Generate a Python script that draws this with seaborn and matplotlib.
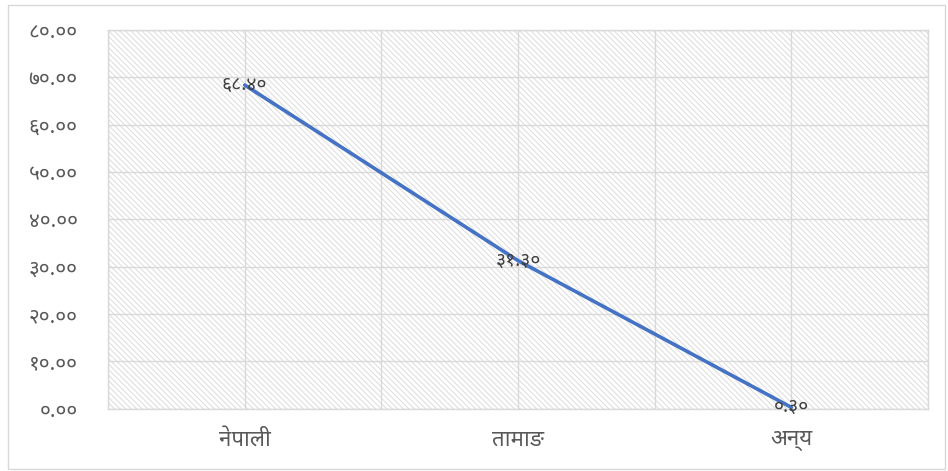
import matplotlib
matplotlib.use('Agg')
import matplotlib.pyplot as plt
import pandas as pd
import seaborn as sns
from matplotlib import font_manager
from matplotlib.patches import Rectangle
from matplotlib.ticker import FixedLocator

# data
categories = ['नेपाली', 'तामाङ', 'अन्य']
values = [68.40, 31.30, 0.30]
y_ticks = [0, 10, 20, 30, 40, 50, 60, 70, 80]

# western -> devanagari digits
DIGITS = str.maketrans('0123456789', '०१२३४५६७८९')


def deva_num(v):
    return ('%.2f' % v).translate(DIGITS)


sns.set_style('white')

# pick a font that has devanagari glyphs
candidates = ['Noto Sans Devanagari', 'Mukta', 'Hind', 'Lohit Devanagari',
              'Kalimati', 'Annapurna SIL', 'Akshar']
available = {f.name for f in font_manager.fontManager.ttflist}
deva = next((c for c in candidates if c in available), 'DejaVu Sans')
plt.rcParams['font.family'] = [deva, 'DejaVu Sans']
plt.rcParams['hatch.color'] = '#dcdcdc'
plt.rcParams['hatch.linewidth'] = 0.7

df = pd.DataFrame({'lang': categories, 'value': values})

fig = plt.figure(figsize=(9.48, 4.71), dpi=100)
ax = fig.add_axes([0.114, 0.132, 0.865, 0.804])

# hatched plot background
ax.add_patch(Rectangle((0, 0), 1, 1, transform=ax.transAxes, facecolor='white',
                       edgecolor='#dcdcdc', hatch='\\' * 6, linewidth=0, zorder=0))

sns.lineplot(data=df, x='lang', y='value', color='#4472c4', linewidth=2.6,
             sort=False, ax=ax, zorder=3)

ax.set_xlim(-0.5, len(categories) - 0.5)
ax.set_ylim(0, 80)
ax.set_yticks(y_ticks)
ax.set_yticklabels([deva_num(t) for t in y_ticks])
ax.xaxis.set_minor_locator(FixedLocator([i + 0.5 for i in range(-1, len(categories))]))
ax.grid(True, which='both', color='#d9d9d9', linewidth=1.0, zorder=1)
ax.set_axisbelow(True)
ax.tick_params(which='both', length=0)
ax.tick_params(axis='y', labelsize=15, labelcolor='#595959', pad=22)
ax.tick_params(axis='x', labelsize=16, labelcolor='#595959', pad=15)
ax.set_xlabel('')
ax.set_ylabel('')
for s in ax.spines.values():
    s.set_color('#d9d9d9')
    s.set_linewidth(1.0)

for i, v in enumerate(values):
    ax.text(i, v, deva_num(v), ha='center', va='center', fontsize=14,
            color='#404040', zorder=4)

# light border around the whole chart
fig.patches.append(Rectangle((8 / 948, 2 / 471), 937 / 948, 464 / 471,
                             transform=fig.transFigure, fill=False,
                             edgecolor='#d9d9d9', linewidth=1.0))

fig.savefig('out.png')
